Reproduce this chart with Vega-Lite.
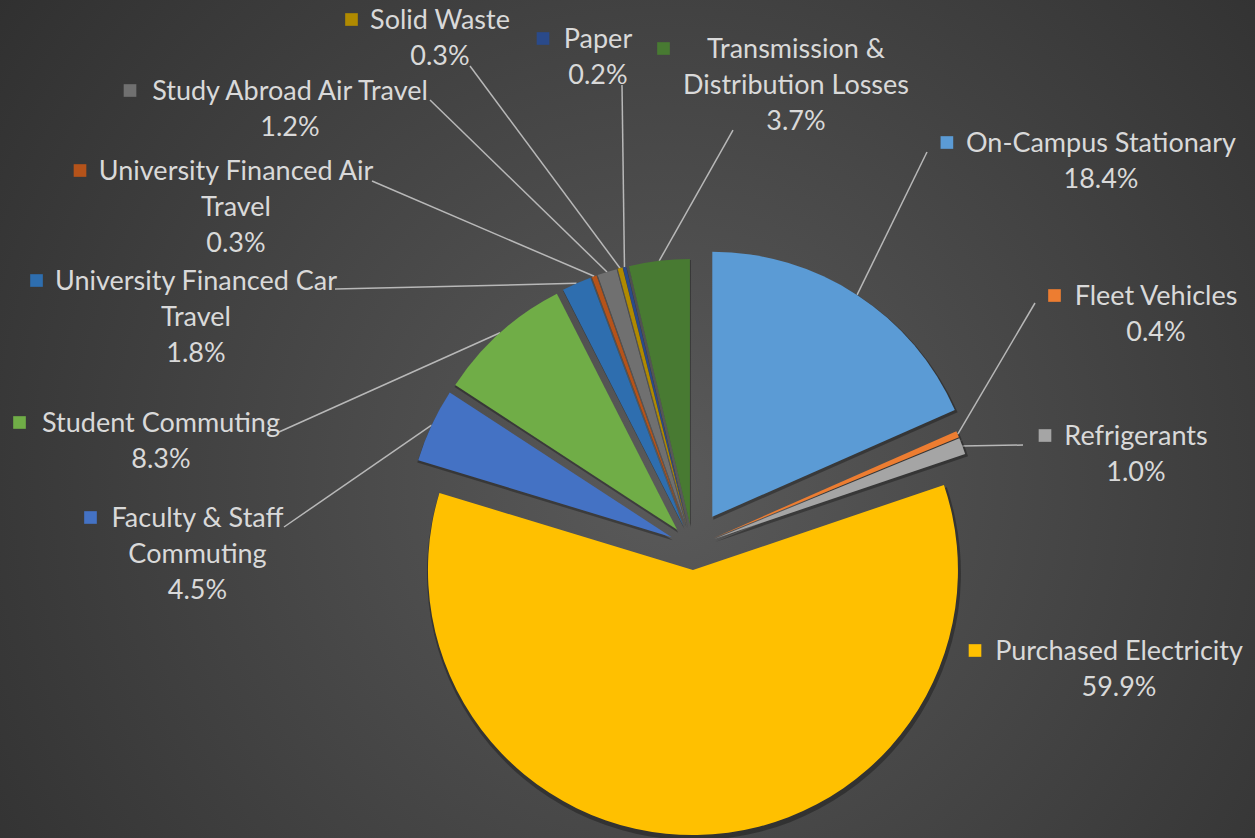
{
  "$schema": "https://vega.github.io/schema/vega-lite/v6.json",
  "width": 1255,
  "height": 838,
  "padding": 0,
  "autosize": "none",
  "background": "#333333",
  "config": {"view": {"stroke": null}},
  "layer": [
    {
      "data": {"values": [{}]},
      "mark": {
        "type": "rect",
        "fill": {
          "gradient": "radial",
          "x1": 0.53, "y1": 0.55, "r1": 0,
          "x2": 0.53, "y2": 0.55, "r2": 0.72,
          "stops": [
            {"offset": 0, "color": "#5a5a5a"},
            {"offset": 1, "color": "#2c2c2c"}
          ]
        }
      }
    },
    {
      "data": {
        "values": [
          {"category": "On-Campus Stationary", "label": "On-Campus Stationary", "pct": 18.4, "order": 1, "lx": 1.5411, "ly": 1.4906, "mx": 0.9596, "tx": 0.8845, "ty": 1.4906},
          {"category": "Fleet Vehicles", "label": "Fleet Vehicles", "pct": 0.4, "order": 2, "lx": 1.7487, "ly": 0.9132, "mx": 1.3657, "tx": 1.2921, "ty": 0.9208},
          {"category": "Refrigerants", "label": "Refrigerants", "pct": 1.0, "order": 3, "lx": 1.6732, "ly": 0.3849, "mx": 1.3298, "tx": 1.2468, "ty": 0.3849},
          {"category": "Purchased Electricity", "label": "Purchased Electricity", "pct": 59.9, "order": 4, "lx": 1.6091, "ly": -0.4264, "mx": 1.0657, "tx": null, "ty": null},
          {"category": "Faculty & Staff Commuting", "label": "Faculty & Staff\nCommuting", "pct": 4.5, "order": 5, "lx": -1.8683, "ly": 0.0755, "mx": -2.2721, "tx": -1.5419, "ty": 0.0755},
          {"category": "Student Commuting", "label": "Student Commuting", "pct": 8.3, "order": 6, "lx": -2.006, "ly": 0.434, "mx": -2.54, "tx": -1.5608, "ty": 0.434},
          {"category": "University Financed Car Travel", "label": "University Financed Car\nTravel", "pct": 1.8, "order": 7, "lx": -1.874, "ly": 0.9698, "mx": -2.4758, "tx": -1.3494, "ty": 0.9736},
          {"category": "University Financed Air Travel", "label": "University Financed Air\nTravel", "pct": 0.3, "order": 8, "lx": -1.723, "ly": 1.3849, "mx": -2.3117, "tx": -1.2098, "ty": 1.3811},
          {"category": "Study Abroad Air Travel", "label": "Study Abroad Air Travel", "pct": 1.2, "order": 9, "lx": -1.5192, "ly": 1.6868, "mx": -2.123, "tx": -0.9909, "ty": 1.6868},
          {"category": "Solid Waste", "label": "Solid Waste", "pct": 0.3, "order": 10, "lx": -0.9532, "ly": 1.9547, "mx": -1.2872, "tx": -0.84, "ty": 1.8151},
          {"category": "Paper", "label": "Paper", "pct": 0.2, "order": 11, "lx": -0.357, "ly": 1.883, "mx": -0.5645, "tx": -0.2664, "ty": 1.7434},
          {"category": "Transmission & Distribution Losses", "label": "Transmission &\nDistribution Losses", "pct": 3.7, "order": 12, "lx": 0.3902, "ly": 1.8453, "mx": -0.1098, "tx": 0.1525, "ty": 1.5736}
        ]
      },
      "transform": [
        {"stack": "pct", "groupby": [], "sort": [{"field": "order", "order": "ascending"}], "as": ["s", "e"]},
        {"calculate": "(datum.s + datum.e) * PI / 100", "as": "mid"},
        {"calculate": "datum.category === 'On-Campus Stationary' ? 0.136 : 0.087", "as": "d"},
        {"calculate": "datum.d * sin(datum.mid)", "as": "ex"},
        {"calculate": "datum.d * cos(datum.mid)", "as": "ey"},
        {"calculate": "(datum.d + 1) * sin(datum.mid)", "as": "ox"},
        {"calculate": "(datum.d + 1) * cos(datum.mid)", "as": "oy"},
        {"calculate": "datum.label + '\\n' + format(datum.pct, '.1f') + '%'", "as": "txt"}
      ],
      "layer": [
        {
          "transform": [{"filter": "isValid(datum.tx)"}],
          "mark": {"type": "rule", "color": "#b8b8b8", "strokeWidth": 1.5},
          "encoding": {
            "x": {"field": "tx", "type": "quantitative", "scale": {"domain": [-2.6136, 2.1223], "nice": false, "zero": false}, "axis": null},
            "y": {"field": "ty", "type": "quantitative", "scale": {"domain": [-1.0981, 2.0642], "nice": false, "zero": false}, "axis": null},
            "x2": {"field": "ox"},
            "y2": {"field": "oy"}
          }
        },
        {
          "mark": {"type": "arc", "outerRadius": 267, "fill": "#000000", "opacity": 0.3, "xOffset": 1, "yOffset": 3},
          "encoding": {
            "x": {"field": "ex", "type": "quantitative", "scale": {"domain": [-2.6136, 2.1223], "nice": false, "zero": false}, "axis": null},
            "y": {"field": "ey", "type": "quantitative", "scale": {"domain": [-1.0981, 2.0642], "nice": false, "zero": false}, "axis": null},
            "theta": {"field": "s", "type": "quantitative", "scale": {"domain": [0, 100]}, "stack": null},
            "theta2": {"field": "e"}
          }
        },
        {
          "mark": {"type": "arc", "outerRadius": 265},
          "encoding": {
            "x": {"field": "ex", "type": "quantitative", "scale": {"domain": [-2.6136, 2.1223], "nice": false, "zero": false}, "axis": null},
            "y": {"field": "ey", "type": "quantitative", "scale": {"domain": [-1.0981, 2.0642], "nice": false, "zero": false}, "axis": null},
            "theta": {"field": "s", "type": "quantitative", "scale": {"domain": [0, 100]}, "stack": null},
            "theta2": {"field": "e"},
            "color": {
              "field": "category", "type": "nominal", "legend": null,
              "scale": {
                "domain": ["On-Campus Stationary", "Fleet Vehicles", "Refrigerants", "Purchased Electricity", "Faculty & Staff Commuting", "Student Commuting", "University Financed Car Travel", "University Financed Air Travel", "Study Abroad Air Travel", "Solid Waste", "Paper", "Transmission & Distribution Losses"],
                "range": ["#5B9BD5", "#ED7D31", "#A5A5A5", "#FFC000", "#4472C4", "#70AD47", "#2E6EAF", "#B5531A", "#707070", "#B08A00", "#2A4A8A", "#487A32"]
              }
            }
          }
        },
        {
          "mark": {"type": "point", "shape": "square", "filled": true, "size": 160, "opacity": 1, "yOffset": -9.5},
          "encoding": {
            "x": {"field": "mx", "type": "quantitative", "scale": {"domain": [-2.6136, 2.1223], "nice": false, "zero": false}, "axis": null},
            "y": {"field": "ly", "type": "quantitative", "scale": {"domain": [-1.0981, 2.0642], "nice": false, "zero": false}, "axis": null},
            "color": {"field": "category", "type": "nominal", "legend": null}
          }
        },
        {
          "mark": {"type": "text", "font": "Lato, Liberation Sans", "fontSize": 27, "align": "center", "baseline": "alphabetic", "lineBreak": "\n", "lineHeight": 36, "fill": "#d9d9d9"},
          "encoding": {
            "x": {"field": "lx", "type": "quantitative", "scale": {"domain": [-2.6136, 2.1223], "nice": false, "zero": false}, "axis": null},
            "y": {"field": "ly", "type": "quantitative", "scale": {"domain": [-1.0981, 2.0642], "nice": false, "zero": false}, "axis": null},
            "text": {"field": "txt"}
          }
        }
      ]
    }
  ]
}
